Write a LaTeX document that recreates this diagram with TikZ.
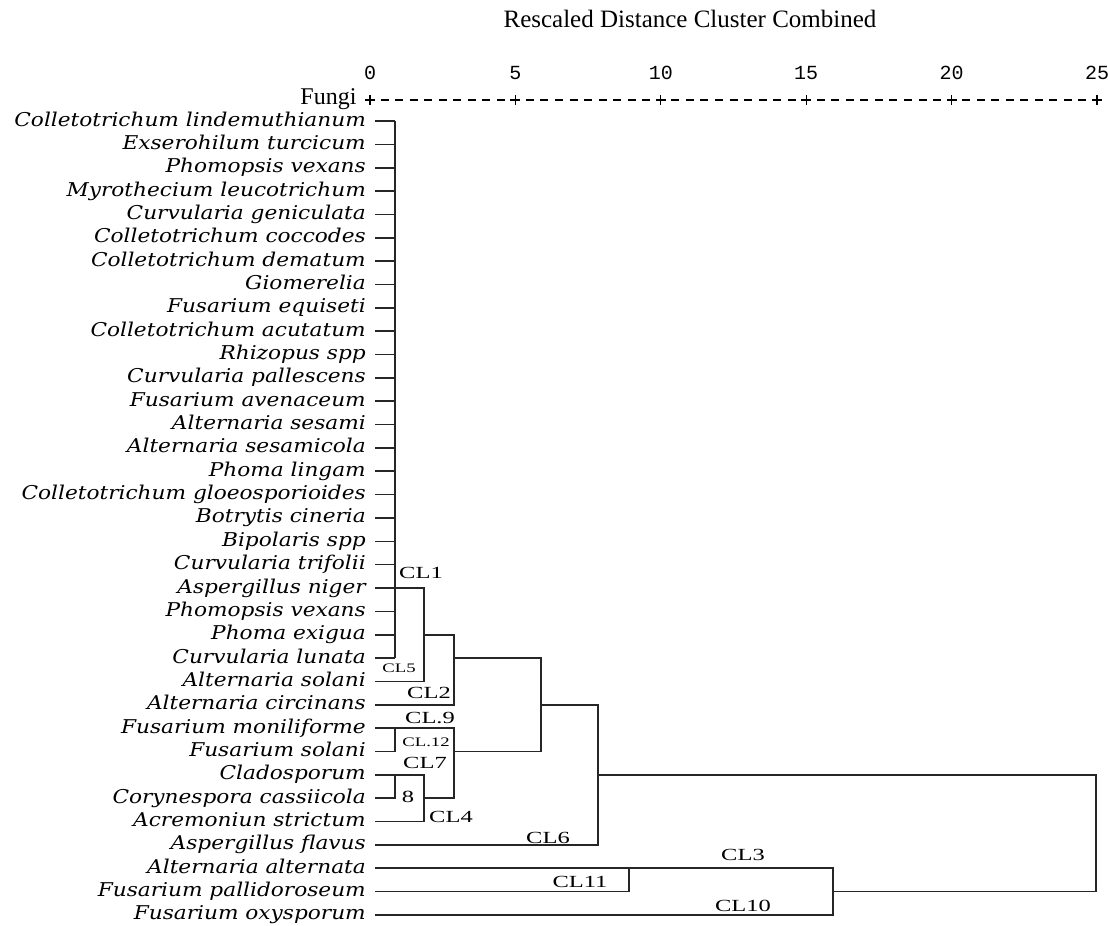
\documentclass[tikz,border=0pt]{standalone}
\usepackage{fontspec}
\usetikzlibrary{calc}
\setmainfont{Liberation Serif}
\newfontfamily\spfont[FakeStretch=1.14]{DejaVu Serif}
\newfontfamily\clfont[FakeStretch=1.44]{Liberation Serif}
\newfontfamily\numfont{Liberation Mono}
\begin{document}
\begin{tikzpicture}[x=1pt,y=-1pt,
    sp/.style={font={\spfont\itshape\fontsize{19}{22}\selectfont}, anchor=base east, inner sep=0pt},
    cl/.style={font={\clfont\fontsize{17}{19}\selectfont}, inner sep=0pt},
    clsmall/.style={font={\clfont\fontsize{13}{15}\selectfont}, inner sep=0pt},
    link/.style={line width=1.6pt, black!85},
    axisdash/.style={line width=1.2pt}]
    \useasboundingbox (0,0) rectangle (1108,926);

    % header
    \node[font={\fontsize{25}{29}\selectfont}] (title) at (690,19) {Rescaled Distance Cluster Combined};
    \node[anchor=east, font={\fontsize{24}{28}\selectfont}] (fungi) at (360,99) {Fungi};
    \foreach \v [count=\k from 0] in {0,5,10,15,20,25} {
        \node[font={\numfont\fontsize{20}{22}\selectfont}] (n\v) at ({370+\k*145.4},73) {\v};
        \coordinate (p\k) at ({370+\k*145.4},100);
        \draw[axisdash] ($(p\k)+(-5,0)$) -- ($(p\k)+(5,0)$);
        \draw[axisdash] ($(p\k)+(0,-5)$) -- ($(p\k)+(0,5)$);
    }
    \foreach \k in {0,...,4}
        \foreach \d in {1,...,9}
            \draw[axisdash] ($(p\k)+({\d*14.54-4},0)$) -- ++(8,0);

    % leaves
    \foreach \name [count=\i] in {Colletotrichum lindemuthianum, Exserohilum turcicum,
        Phomopsis vexans, Myrothecium leucotrichum, Curvularia geniculata,
        Colletotrichum coccodes, Colletotrichum dematum, Giomerelia, Fusarium equiseti,
        Colletotrichum acutatum, Rhizopus spp, Curvularia pallescens, Fusarium avenaceum,
        Alternaria sesami, Alternaria sesamicola, Phoma lingam,
        Colletotrichum gloeosporioides, Botrytis cineria, Bipolaris spp,
        Curvularia trifolii, Aspergillus niger, Phomopsis vexans, Phoma exigua,
        Curvularia lunata, Alternaria solani, Alternaria circinans,
        Fusarium moniliforme, Fusarium solani, Cladosporum, Corynespora cassiicola,
        Acremoniun strictum, Aspergillus flavus, Alternaria alternata,
        Fusarium pallidoroseum, Fusarium oxysporum} {
        \node[sp] (l\i) at (366,{121+(\i-1)*23.35+5}) {\name};
        \coordinate (t\i) at (375,{121+(\i-1)*23.35});
    }

    % merge levels
    \coordinate (xa) at (395,0);
    \coordinate (xb) at (424,0);
    \coordinate (xc) at (454,0);
    \coordinate (xd) at (541,0);
    \coordinate (xe) at (598,0);
    \coordinate (xf) at (629,0);
    \coordinate (xg) at (833,0);
    \coordinate (xh) at (1096,0);

    \foreach \i in {1,...,24}
        \draw[link] (t\i) -- (xa |- t\i);
    \draw[link] (xa |- t1) -- (xa |- t24);
    \draw[link] (t21) -- (xb |- t21) -- (xb |- t25) -- (t25);
    \draw[link] (xb |- t23) -- (xc |- t23) -- (xc |- t26) -- (t26);
    \draw[link] (xc |- t24) -- (xd |- t24) -- (xd |- t28) -- (xc |- t28);
    \draw[link] (t27) -- (xc |- t27) -- (xc |- t30) -- (xb |- t30);
    \draw[link] (xa |- t27) -- (xa |- t28) -- (t28);
    \draw[link] (t29) -- (xb |- t29) -- (xb |- t31) -- (t31);
    \draw[link] (xa |- t29) -- (xa |- t30) -- (t30);
    \draw[link] (xd |- t26) -- (xe |- t26) -- (xe |- t32) -- (t32);
    \draw[link] (xe |- t29) -- (xh |- t29) -- (xh |- t34) -- (xg |- t34);
    \draw[link] (t33) -- (xg |- t33) -- (xg |- t35) -- (t35);
    \draw[link] (t34) -- (xf |- t34) -- (xf |- t33);

    % cluster names
    \node[cl] (cl1) at (421,573) {CL1};
    \node[clsmall] (cl5) at (399,668) {CL5};
    \node[cl] (cl2) at (429,693) {CL2};
    \node[cl] (cl9) at (430,718) {CL.9};
    \node[clsmall] (cl12) at (426,742) {CL.12};
    \node[cl] (cl7) at (425,763) {CL7};
    \node[cl] (cl8) at (408,797) {8};
    \node[cl] (cl4) at (451,817) {CL4};
    \node[cl] (cl6) at (548,838) {CL6};
    \node[cl] (cl3) at (743,855) {CL3};
    \node[cl] (cl11) at (580,882) {CL11};
    \node[cl] (cl10) at (743,906) {CL10};
\end{tikzpicture}
\end{document}
